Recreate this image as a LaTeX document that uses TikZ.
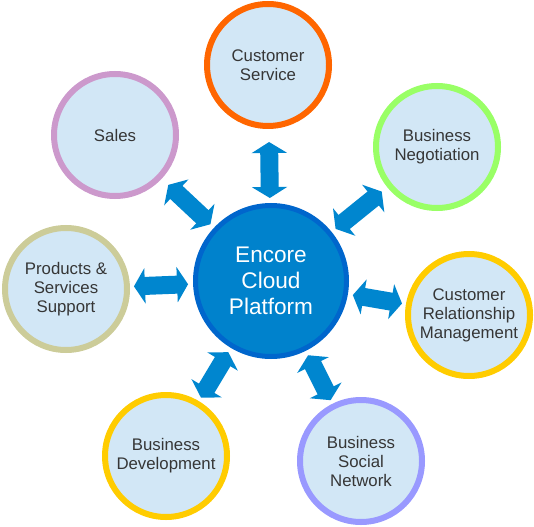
\documentclass[tikz,border=0pt]{standalone}
\usepackage{fontspec}
\setsansfont{Liberation Sans}
\usepackage{tikz}
\usetikzlibrary{arrows.meta,positioning,calc}

\definecolor{hubfill}{HTML}{0082CC}
\definecolor{hubring}{HTML}{0066CC}
\definecolor{arrblue}{HTML}{0086CF}
\definecolor{bubble}{HTML}{D2E7F6}
\definecolor{txtgray}{HTML}{363636}
\definecolor{rorange}{HTML}{FF6600}
\definecolor{rgreen}{HTML}{99FF66}
\definecolor{ryellow}{HTML}{FFCC00}
\definecolor{rlavender}{HTML}{9999FF}
\definecolor{rkhaki}{HTML}{CCCC99}
\definecolor{rpink}{HTML}{CC99CC}

\begin{document}
\begin{tikzpicture}[x=1pt,y=-1pt,
  hub/.style={circle,draw=hubring,fill=hubfill,line width=5pt,minimum size=151pt,
    inner sep=0pt,align=center,text=white,font=\sffamily\fontsize{22.6}{26}\selectfont},
  topic/.style={circle,draw=#1,fill=bubble,line width=6pt,minimum size=122pt,
    inner sep=0pt,align=center,text=txtgray,font=\sffamily\fontsize{16.8}{19}\selectfont},
  dbl/.style={line width=18pt,draw=arrblue,
    {Triangle[length=11pt,width=35pt]}-{Triangle[length=11pt,width=35pt]}}]
  \useasboundingbox (0,0) rectangle (534,526);

  \node[hub] (hub) at (271,281) {Encore\\Cloud\\Platform};

  \node[topic=rorange]   (cs)    at (268,65)  {Customer\\Service};
  \node[topic=rgreen]    (bn)    at (437,147) {Business\\Negotiation};
  \node[topic=ryellow]   (crm)   at (469,315) {Customer\\Relationship\\Management};
  \node[topic=rlavender] (bsn)   at (361,461) {Business\\Social\\Network};
  \node[topic=ryellow]   (bd)    at (166,456) {Business\\Development};
  \node[topic=rkhaki]    (pss)   at (66,289)  {Products \&\\Services\\Support};
  \node[topic=rpink]     (sales) at (115,135) {Sales};

  \foreach \t/\g in {cs/13,bn/7,crm/4,bsn/4,bd/4,pss/4,sales/9}
    \draw[dbl,shorten <=5pt,shorten >=\g pt] (hub) -- (\t);
\end{tikzpicture}
\end{document}
